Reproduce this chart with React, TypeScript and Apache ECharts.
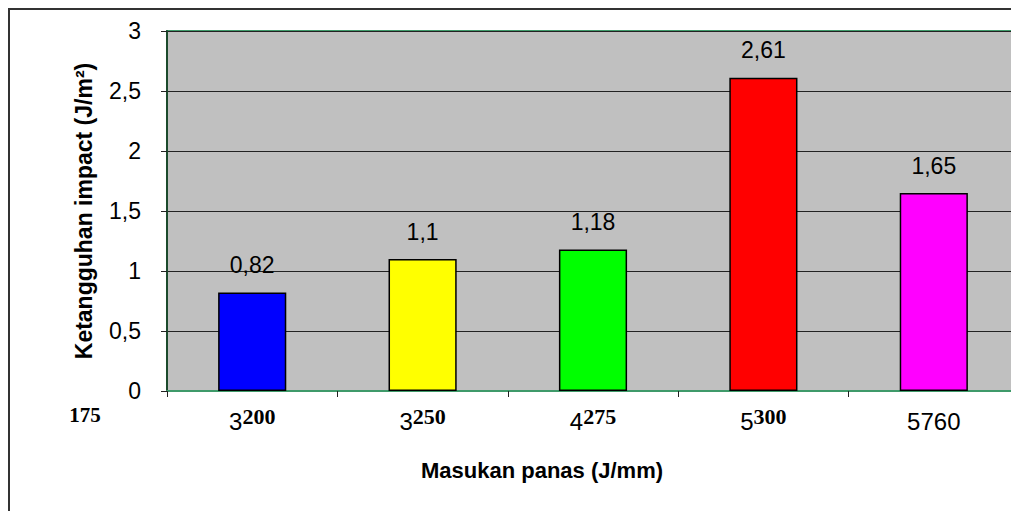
import React, { useEffect, useRef } from "react";
import * as echarts from "echarts";

const xMain = ["3", "3", "4", "5", "5760"];
const xSup = ["200", "250", "275", "300", ""];
const leftSup = "175";
const values = [0.82, 1.1, 1.18, 2.61, 1.65];
const barColors = ["#0000FF", "#FFFF00", "#00FF00", "#FF0000", "#FF00FF"];
const categories = xMain.map((m, i) => m + xSup[i]);

const comma = (v: number) => String(v).replace(".", ",");

export default function App() {
  const ref = useRef<HTMLDivElement>(null);
  useEffect(() => {
    if (!ref.current) return;
    const chart = echarts.init(ref.current, undefined, { renderer: "svg" });
    chart.setOption({
      animation: false,
      textStyle: { fontFamily: "Liberation Sans, Arial, sans-serif" },
      grid: {
        left: 157,
        right: 0,
        top: 21,
        bottom: 120,
        show: true,
        backgroundColor: "#C0C0C0",
        borderColor: "#3f9a6a",
        borderWidth: 2,
      },
      xAxis: {
        type: "category",
        data: categories,
        axisLine: { show: true, lineStyle: { color: "#3f9a6a", width: 2 } },
        axisTick: { show: true, length: 6, lineStyle: { color: "#222" } },
        axisLabel: {
          margin: 14,
          interval: 0,
          formatter: (_v: string, i: number) =>
            xSup[i] ? `{n|${xMain[i]}}{s|${xSup[i]}}` : `{n|${xMain[i]}}`,
          rich: {
            n: {
              fontFamily: "Liberation Sans, Arial, sans-serif",
              fontSize: 24,
              color: "#000",
              verticalAlign: "bottom",
              lineHeight: 28,
            },
            s: {
              fontFamily: "Liberation Serif, Times New Roman, serif",
              fontWeight: "bold",
              fontSize: 22,
              color: "#000",
              verticalAlign: "top",
              lineHeight: 28,
              padding: [0, 0, 10, 0],
            },
          },
        },
        name: "Masukan panas (J/mm)",
        nameLocation: "middle",
        nameGap: 68,
        nameTextStyle: {
          fontFamily: "Liberation Sans, Arial, sans-serif",
          fontWeight: "bold",
          fontSize: 22,
          color: "#000",
          padding: [0, 102, 0, 0],
        },
      },
      yAxis: {
        type: "value",
        min: 0,
        max: 3,
        interval: 0.5,
        axisLine: { show: true, lineStyle: { color: "#1b4a2c", width: 2 } },
        axisTick: { show: true, length: 6, lineStyle: { color: "#222" } },
        splitLine: { show: true, lineStyle: { color: "#222", width: 1 } },
        axisLabel: {
          margin: 26,
          fontSize: 23,
          color: "#000",
          formatter: (v: number) => comma(v),
        },
        name: "Ketangguhan impact (J/m²)",
        nameLocation: "middle",
        nameGap: 72,
        nameTextStyle: {
          fontFamily: "Liberation Sans, Arial, sans-serif",
          fontWeight: "bold",
          fontSize: 23,
          color: "#000",
        },
      },
      graphic: [
        {
          type: "text",
          x: 75,
          y: 405,
          style: {
            text: leftSup,
            fontFamily: "Liberation Serif, Times New Roman, serif",
            fontWeight: "bold",
            fontSize: 21,
            fill: "#000",
            textAlign: "center",
            textVerticalAlign: "middle",
          },
        },
      ],
      series: [
        {
          type: "bar",
          barWidth: "40%",
          data: values.map((v, i) => ({
            value: v,
            itemStyle: { color: barColors[i], borderColor: "#000", borderWidth: 1.5 },
          })),
          label: {
            show: true,
            position: "top",
            distance: 16,
            fontSize: 23,
            color: "#000",
            formatter: (p: any) => comma(p.value),
          },
        },
      ],
    });
    return () => chart.dispose();
  }, []);
  return (
    <div
      style={{
        borderTop: "2px solid #333",
        borderLeft: "2px solid #333",
        width: 1100,
        height: 600,
      }}
    >
      <div ref={ref} style={{ width: 1009, height: 501 }} />
    </div>
  );
}
